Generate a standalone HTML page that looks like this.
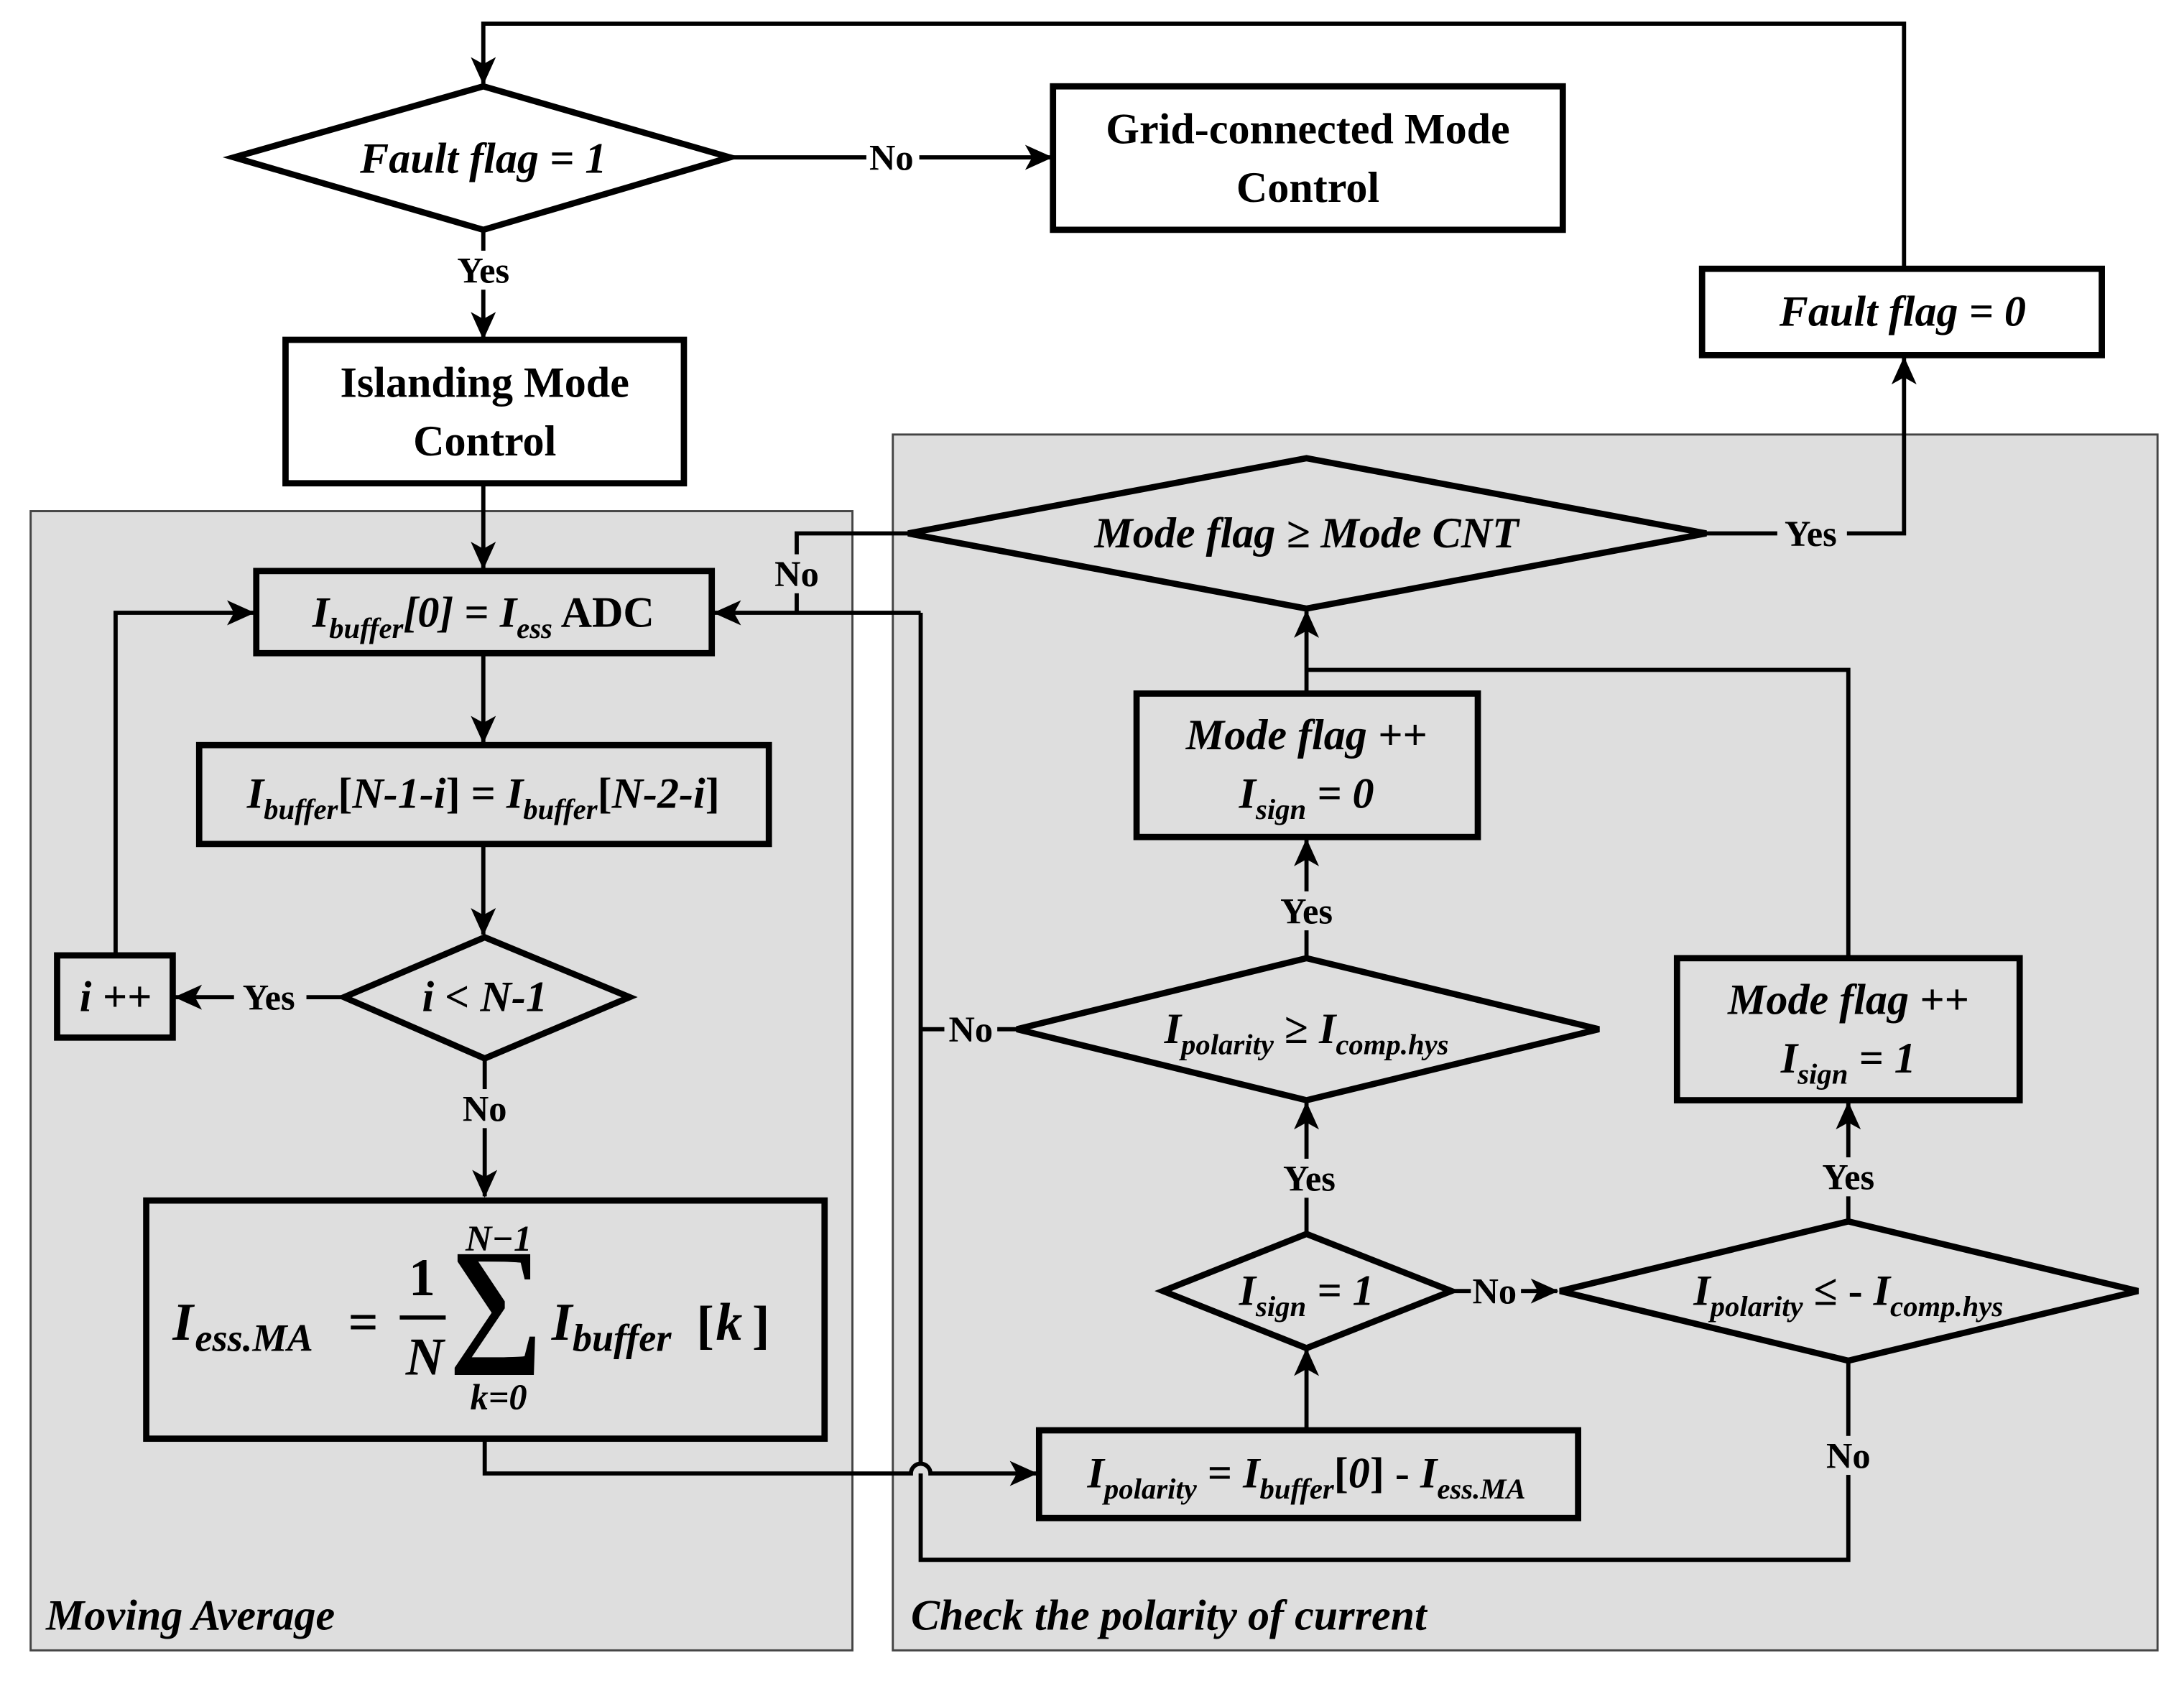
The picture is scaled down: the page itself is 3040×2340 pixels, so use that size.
<!DOCTYPE html>
<html><head><meta charset="utf-8"><style>
html,body{margin:0;padding:0;background:#fff;}
svg{display:block;}
text{font-family:"Liberation Serif",serif;font-weight:bold;fill:#000;}
.i{font-style:italic;}
</style></head><body>
<svg width="3040" height="2340" viewBox="0 0 1568 1207" preserveAspectRatio="none" xmlns="http://www.w3.org/2000/svg">
<defs>
<marker id="a" markerWidth="20" markerHeight="18" refX="19" refY="9" orient="auto" markerUnits="userSpaceOnUse" viewBox="0 0 20 18">
<path d="M0,0 L20,9 L0,18 L5,9 Z" fill="#000"/>
</marker>
</defs>
<rect width="1568" height="1207" fill="#fff"/>
<rect x="22" y="367" width="590" height="818" fill="#dedede" stroke="#444" stroke-width="1.5"/>
<rect x="641" y="312" width="908" height="873" fill="#dedede" stroke="#444" stroke-width="1.5"/>

<g fill="none" stroke="#000" stroke-width="3">
<polyline points="1367,193 1367,17 347,17 347,60" marker-end="url(#a)"/>
<line x1="524" y1="113" x2="755" y2="113" marker-end="url(#a)"/>
<line x1="347" y1="165" x2="347" y2="243" marker-end="url(#a)"/>
<line x1="347" y1="347" x2="347" y2="408" marker-end="url(#a)"/>
<line x1="347" y1="469" x2="347" y2="533" marker-end="url(#a)"/>
<line x1="347" y1="606" x2="347" y2="671" marker-end="url(#a)"/>
<line x1="247" y1="716" x2="126" y2="716" marker-end="url(#a)"/>
<polyline points="83,686 83,440 182,440" marker-end="url(#a)"/>
<line x1="348" y1="760" x2="348" y2="859" marker-end="url(#a)"/>
<path d="M348,1033 V1058 H654 A7,7 0 0 1 668,1058 H744" marker-end="url(#a)"/>
<line x1="938" y1="1027" x2="938" y2="969" marker-end="url(#a)"/>
<line x1="938" y1="886" x2="938" y2="792" marker-end="url(#a)"/>
<line x1="938" y1="688" x2="938" y2="603" marker-end="url(#a)"/>
<line x1="938" y1="498" x2="938" y2="439" marker-end="url(#a)"/>
<polyline points="938,481 1327,481 1327,688"/>
<polyline points="730,739 661,739"/>
<polyline points="661,1058 661,1120 1327,1120 1327,977"/>
<polyline points="661,440 661,1051"/>
<line x1="661" y1="440" x2="513" y2="440" marker-end="url(#a)"/>
<polyline points="652,383 572,383 572,440"/>
<polyline points="1225,383 1367,383 1367,257" marker-end="url(#a)"/>
<line x1="1042" y1="927" x2="1118" y2="927" marker-end="url(#a)"/>
<line x1="1327" y1="877" x2="1327" y2="792" marker-end="url(#a)"/>
</g>

<g stroke="#000" stroke-width="4.5">
<polygon points="168,113 347,62 524,113 347,165" fill="#fff"/>
<rect x="756" y="62" width="366" height="103" fill="#fff"/>
<rect x="1222" y="193" width="287" height="62" fill="#fff"/>
<rect x="205" y="244" width="286" height="103" fill="#fff"/>
<rect x="184" y="410" width="327" height="59" fill="#dedede"/>
<rect x="143" y="535" width="409" height="71" fill="#dedede"/>
<polygon points="247,716 348,673 452,716 348,760" fill="#dedede"/>
<rect x="41" y="686" width="83" height="59" fill="#dedede"/>
<rect x="105" y="862" width="487" height="171" fill="#dedede"/>
<rect x="746" y="1027" width="387" height="63" fill="#dedede"/>
<polygon points="835,927 938,886 1042,927 938,968" fill="#dedede"/>
<polygon points="730,739 938,688 1148,739 938,790" fill="#dedede"/>
<rect x="816" y="498" width="245" height="103" fill="#dedede"/>
<polygon points="652,383 938,329 1225,383 938,437" fill="#dedede"/>
<rect x="1204" y="688" width="246" height="102" fill="#dedede"/>
<polygon points="1120,927 1327,877 1535,927 1327,977" fill="#dedede"/>
</g>

<g font-size="26" text-anchor="middle">
<rect x="622" y="99" width="38" height="28" fill="#fff"/><text x="640" y="122">No</text>
<rect x="322" y="180" width="50" height="28" fill="#fff"/><text x="347" y="203">Yes</text>
<rect x="168" y="702" width="52" height="28" fill="#dedede"/><text x="193" y="725">Yes</text>
<rect x="330" y="782" width="38" height="28" fill="#dedede"/><text x="348" y="805">No</text>
<rect x="553" y="398" width="38" height="28" fill="#dedede"/><text x="572" y="421">No</text>
<rect x="678" y="725" width="38" height="28" fill="#dedede"/><text x="697" y="748">No</text>
<rect x="1276" y="369" width="50" height="28" fill="#dedede"/><text x="1300" y="392">Yes</text>
<rect x="913" y="640" width="50" height="28" fill="#dedede"/><text x="938" y="663">Yes</text>
<rect x="915" y="832" width="50" height="28" fill="#dedede"/><text x="940" y="855">Yes</text>
<rect x="1302" y="831" width="50" height="28" fill="#dedede"/><text x="1327" y="854">Yes</text>
<rect x="1056" y="913" width="36" height="28" fill="#dedede"/><text x="1073" y="936">No</text>
<rect x="1308" y="1031" width="38" height="28" fill="#dedede"/><text x="1327" y="1054">No</text>
</g>

<g text-anchor="middle" font-size="31">
<text x="347" y="124" class="i">Fault flag = 1</text>
<text x="939" y="103">Grid-connected Mode</text>
<text x="939" y="145">Control</text>
<text x="1366" y="234" class="i">Fault flag = 0</text>
<text x="348" y="285">Islanding Mode</text>
<text x="348" y="327">Control</text>
<text x="347" y="450"><tspan class="i">I</tspan><tspan class="i" font-size="21" dy="8">buffer</tspan><tspan class="i" dy="-8">[0]</tspan> = <tspan class="i">I</tspan><tspan class="i" font-size="21" dy="8">ess</tspan><tspan dy="-8"> ADC</tspan></text>
<text x="347" y="580"><tspan class="i">I</tspan><tspan class="i" font-size="21" dy="8">buffer</tspan><tspan dy="-8">[</tspan><tspan class="i">N-1-i</tspan>] = <tspan class="i">I</tspan><tspan class="i" font-size="21" dy="8">buffer</tspan><tspan dy="-8">[</tspan><tspan class="i">N-2-i</tspan>]</text>
<text x="348" y="726" class="i">i &lt; N-1</text>
<text x="83" y="726" class="i">i ++</text>
<text x="938" y="393" class="i">Mode flag ≥  Mode CNT</text>
<text x="938" y="538" class="i">Mode flag ++</text>
<text x="938" y="580"><tspan class="i">I</tspan><tspan class="i" font-size="21" dy="8">sign</tspan><tspan class="i" dy="-8"> = 0</tspan></text>
<text x="938" y="749"><tspan class="i">I</tspan><tspan class="i" font-size="21" dy="8">polarity</tspan><tspan dy="-8"> ≥  </tspan><tspan class="i">I</tspan><tspan class="i" font-size="21" dy="8">comp.hys</tspan></text>
<text x="1327" y="728" class="i">Mode flag ++</text>
<text x="1327" y="770"><tspan class="i">I</tspan><tspan class="i" font-size="21" dy="8">sign</tspan><tspan class="i" dy="-8"> = 1</tspan></text>
<text x="938" y="937"><tspan class="i">I</tspan><tspan class="i" font-size="21" dy="8">sign</tspan><tspan class="i" dy="-8"> = 1</tspan></text>
<text x="1327" y="937"><tspan class="i">I</tspan><tspan class="i" font-size="21" dy="8">polarity</tspan><tspan dy="-8"> ≤ - </tspan><tspan class="i">I</tspan><tspan class="i" font-size="21" dy="8">comp.hys</tspan></text>
<text x="938" y="1068"><tspan class="i">I</tspan><tspan class="i" font-size="21" dy="8">polarity</tspan><tspan dy="-8"> = </tspan><tspan class="i">I</tspan><tspan class="i" font-size="21" dy="8">buffer</tspan><tspan dy="-8">[</tspan><tspan class="i">0</tspan>] - <tspan class="i">I</tspan><tspan class="i" font-size="21" dy="8">ess.MA</tspan></text>
</g>

<g font-size="38">
<text x="124" y="962" class="i">I</text>
<text x="140" y="970" class="i" font-size="28">ess.MA</text>
<text x="250" y="962">=</text>
<text x="303" y="930" text-anchor="middle">1</text>
<line x1="287" y1="946" x2="320" y2="946" stroke="#000" stroke-width="3"/>
<text x="305" y="987" text-anchor="middle" class="i">N</text>
<text x="0" y="0" text-anchor="middle" font-size="100" font-weight="normal" transform="translate(356,966) scale(0.95,1)">∑</text>
<text x="358" y="898" text-anchor="middle" font-size="26" class="i">N−1</text>
<text x="358" y="1012" text-anchor="middle" font-size="26" class="i">k=0</text>
<text x="396" y="962" class="i">I</text>
<text x="411" y="970" class="i" font-size="28">buffer</text>
<text x="500" y="964" font-weight="normal">[</text>
<text x="514" y="962" class="i">k</text>
<text x="540" y="964" font-weight="normal">]</text>
</g>

<g font-size="31">
<text x="33" y="1170" class="i">Moving Average</text>
<text x="654" y="1170" class="i">Check the polarity of current</text>
</g>
</svg>
</body></html>
